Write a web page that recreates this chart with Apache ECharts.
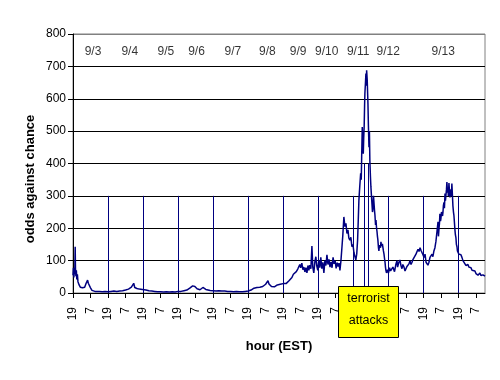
<!DOCTYPE html>
<html><head><meta charset="utf-8">
<script src="https://cdn.jsdelivr.net/npm/echarts@6/dist/echarts.min.js"></script>
<style>html,body{margin:0;padding:0;background:#fff}#c{width:500px;height:380px}</style>
</head><body><div id="c"></div>
<script>
// hours since 9/2 19:00 EST, odds against chance
const oddsByHour = [
[0,55],[0.3,78],[0.6,48],[0.9,70],[1.2,58],[1.5,143],[1.7,75],[2.0,52],[2.3,70],[2.6,42],[3.0,58],[3.4,35],[3.8,40],[4.2,25],[4.6,30],[5.0,18],[5.5,22],[6.0,13],[6.5,16],[7.0,11],[7.5,14],[8.0,18],[8.5,24],[9.0,30],[9.5,36],[10.0,40],[10.5,30],[11.0,34],[11.5,24],[12.0,16],[12.5,11],[13.0,8],[14,6],[15,5],[16,4],
[18,5],[20,4],[22,5],[24,4],[26,5],[28,6],[30,5],[32,6],[34,7],[35,6],[36,9],[37,8],[38,12],[39,10],[40,18],[40.8,24],[41.6,30],[42.3,17],[43.0,22],[43.8,14],[44.5,17],[45.5,12],[46.5,15],[47.5,11],[48.5,13],[50,9],[52,7],[54,6],[56,5],[58,4],[60,4],[62,3],[64,4],[66,3],[68,4],[70,3],[72,5],[74,5],[76,7],[78,9],[79,12],[80,15],[81,19],[82,22],[82.8,17],[83.5,20],[84.2,14],[85,13],[86,11],[87,10],[88,13],[89,17],[90,14],[91,11],[92,9],[94,8],[96,7],[98,6],[100,7],[102,6],[104,6],[106,5],[108,5],[110,4],[112,5],[114,4],[116,4],[118,5],[120,6],[121,7],[122,9],[123,12],[124,15],[125,13],[126,17],[127,21],[128,18],[129,23],[130,20],[131,25],[132,27],[133,33],[133.6,38],[134.3,28],[135,24],[136,20],[137,23],[138,19],[139,22],[140,25],[141,21],[142,27],[143,24],[144,29],[145,32],[146,29],[147,34],[148,38],[149,44],[150,48],[151,58],[152,52],[153,66],[154,74],[154.6,70],[155.4,88],[156,78],[156.8,92],[157.5,72],[158.2,80],[158.9,65],[159.6,78],[160.3,62],[161,85],[161.6,70],[162.3,86],[163,75],[163.7,145],[164.3,80],[165,62],[165.7,95],[166.4,112],[167,85],[167.7,70],[168.4,100],[169.1,78],[169.8,110],[170.5,75],[171.2,95],[171.9,62],[172.6,100],[173.3,85],[174,118],[174.7,88],[175.4,104],[176.1,80],[176.8,96],[177.5,78],[178.2,110],[178.9,90],[179.6,100],[180.3,76],[181,94],[181.7,82],[182.3,92],[182.9,70],[183.6,100],[184.3,143],[184.9,180],[185.6,235],[186.3,205],[187,215],[187.7,184],[188.4,195],[189,170],[189.7,163],[190.4,172],[191.1,143],[191.8,150],[192.5,125],[193.2,112],[193.8,102],[194.4,120],[195,163],[195.5,230],[195.9,287],[196.5,330],[197.1,370],[197.5,350],[197.8,420],[198.2,513],[198.6,470],[198.9,430],[199.2,480],[199.5,513],[199.8,580],[200,616],[200.4,650],[200.7,678],[201,640],[201.2,688],[201.6,657],[202.1,585],[202.4,520],[202.8,450],[203.1,500],[203.4,410],[203.8,360],[204.1,330],[204.5,300],[204.8,297],[205.2,250],[205.5,260],[205.9,300],[206.2,280],[206.6,255],[206.9,240],[207.3,210],[207.6,225],[208,200],[208.3,190],[208.6,175],[208.9,164],[209.3,140],[209.6,130],[210,148],[210.3,150],[210.7,140],[211,158],[211.4,145],[211.7,140],[212,152],[212.4,150],[212.7,130],[213.1,120],[213.5,105],[213.8,95],[214.1,80],[214.4,70],[214.8,62],[215.1,60],[215.5,72],[215.8,75],[216.2,62],[216.5,65],[216.9,78],[217.2,80],[217.6,68],[218,62],[218.6,70],[219.2,80],[219.9,75],[220.3,66],[220.6,71],[221.3,90],[222,100],[222.4,80],[222.7,85],[223.3,95],[224,102],[224.7,85],[225.4,75],[226,88],[226.8,80],[227.5,68],[228.2,70],[228.8,82],[229.5,78],[230.2,90],[230.9,100],[231.6,88],[232.3,95],[233,104],[233.6,110],[234.3,102],[235,120],[235.7,115],[236.4,135],[237.1,128],[237.8,140],[238.4,132],[239.1,130],[239.8,118],[240.5,110],[241.2,120],[241.9,95],[242.5,100],[243.2,86],[243.9,95],[244.6,110],[245.3,105],[246,120],[246.6,112],[247.3,130],[248,140],[248.7,160],[249.4,190],[250.1,220],[250.4,175],[250.8,200],[251.1,215],[251.4,245],[251.8,222],[252.1,230],[252.5,250],[252.8,255],[253.2,238],[253.5,250],[253.8,270],[254.2,280],[254.5,262],[254.9,307],[255.2,285],[255.5,290],[255.9,320],[256.2,343],[256.6,310],[256.9,320],[257.2,300],[257.6,340],[257.9,318],[258.3,295],[258.6,310],[259,320],[259.3,300],[259.6,338],[260,300],[260.3,270],[260.7,250],[261,240],[261.4,215],[261.7,195],[262,180],[262.4,170],[262.7,150],[263.1,143],[263.4,130],[263.8,125],[264.4,120],[265.1,115],[265.8,118],[266.5,110],[267.2,100],[267.9,95],[268.5,102],[269.2,85],[269.9,90],[270.6,88],[271.3,80],[272,75],[272.7,78],[273.4,70],[274,72],[274.7,65],[275.4,68],[276.1,60],[276.8,64],[277.5,55],[278.1,60],[278.8,62],[279.5,54],[280.2,50],[280.9,56],[281.6,55],[282.3,52]
];
const tickLabels = ['19', '7'];
const dayNames = ['9/3','9/4','9/5','9/6','9/7','9/8','9/9','9/10','9/11','9/12','9/13'];
const dayLabelHours = [13.7,38.9,63.6,84.6,109.5,133.2,154.3,173.8,195.4,216.0,253.7];
const dayLabelLevel = 745;
const dayLineHours = [24,48,72,96,120,144,168,192,216,240,264];
const dayLineTop = 300;
const attackHours = [199.9, 202.3];
const attackLineTop = 400;
const annotationLines = ['terrorist', 'attacks'];

const font = 'Arial, "Liberation Sans", sans-serif';
const tickHours = [];
for (let h = 0; h <= 282; h += 12) tickHours.push(h);

const chart = echarts.init(document.getElementById('c'), null, {renderer: 'canvas'});
const markData = dayLineHours.map(h => [{coord: [h, 0]}, {coord: [h, dayLineTop]}])
  .concat(attackHours.map(h => [{coord: [h, 0]}, {coord: [h, attackLineTop]}]));

chart.setOption({
  animation: false,
  backgroundColor: '#fff',
  grid: {left: 73, right: 15, top: 34, bottom: 87, show: true, borderColor: '#808080', borderWidth: 1, backgroundColor: 'transparent'},
  xAxis: {
    type: 'value', min: 0, max: 282.3, interval: 12,
    axisLine: {lineStyle: {color: '#000', width: 1}},
    axisTick: {length: 5, lineStyle: {color: '#000'}, customValues: tickHours},
    axisLabel: {rotate: 90, margin: 14, fontSize: 12, color: '#000', fontFamily: font, customValues: tickHours,
      formatter: v => tickLabels[Math.round(v / 12) % 2]},
    splitLine: {show: false},
    name: 'hour (EST)', nameLocation: 'middle', nameGap: 47,
    nameTextStyle: {fontWeight: 'bold', fontSize: 13, color: '#000', fontFamily: font}
  },
  yAxis: {
    type: 'value', min: 0, max: 800, interval: 100,
    axisLine: {show: true, lineStyle: {color: '#000', width: 1}},
    axisTick: {show: true, length: 5, lineStyle: {color: '#000'}},
    axisLabel: {margin: 7, fontSize: 12, color: '#000', fontFamily: font},
    splitLine: {show: true, lineStyle: {color: ['#000','#000','#000','#000','#000','#000','#000','#000','#808080'], width: 1}}
  },
  series: [
    {
      type: 'line', data: oddsByHour, showSymbol: false, symbol: 'none',
      lineStyle: {color: '#000080', width: 1.5}, itemStyle: {color: '#000080'},
      emphasis: {disabled: true}, silent: true, z: 3,
      markLine: {silent: true, symbol: ['none', 'none'], label: {show: false},
        lineStyle: {color: '#000080', width: 1, type: 'solid'}, emphasis: {disabled: true},
        animation: false, data: markData}
    },
    {
      type: 'scatter', symbolSize: 0, silent: true, z: 4,
      data: dayNames.map((n, i) => [dayLabelHours[i], dayLabelLevel, n]),
      label: {show: true, position: 'inside', formatter: p => p.data[2], color: '#000', fontSize: 12, fontFamily: font}
    }
  ],
  graphic: [
    {type: 'rect', z: 100, shape: {x: 338.5, y: 286.5, width: 60, height: 51}, style: {fill: '#ffff00', stroke: '#000', lineWidth: 1}},
    {type: 'text', z: 101, x: 368.5, y: 298.5, style: {text: annotationLines[0], fill: '#000', font: '12.5px ' + font, textAlign: 'center', textVerticalAlign: 'middle'}},
    {type: 'text', z: 101, x: 368.5, y: 321, style: {text: annotationLines[1], fill: '#000', font: '12.5px ' + font, textAlign: 'center', textVerticalAlign: 'middle'}},
    {type: 'text', z: 101, x: 30, y: 179, rotation: Math.PI / 2, style: {text: 'odds against chance', fill: '#000', font: 'bold 13px ' + font, textAlign: 'center', textVerticalAlign: 'middle'}}
  ]
});
</script></body></html>
